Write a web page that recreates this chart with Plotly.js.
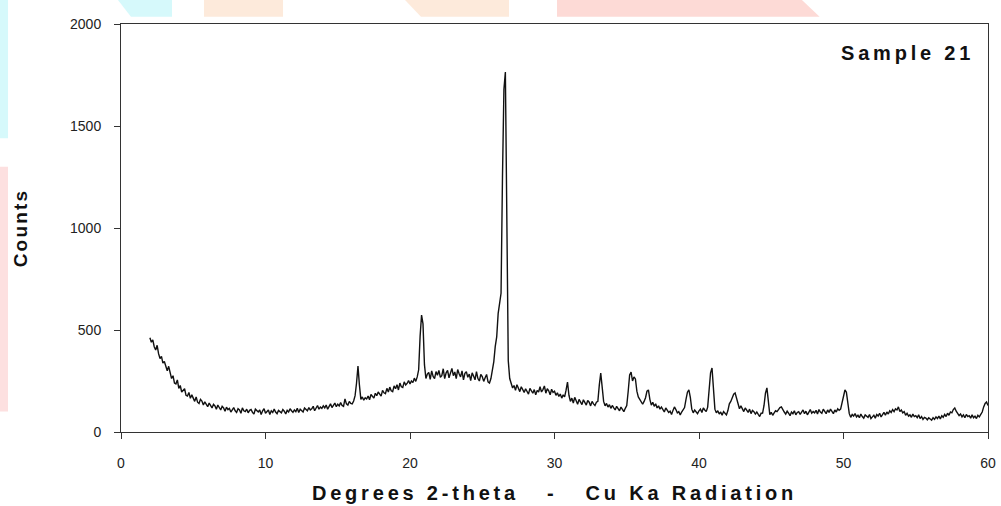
<!DOCTYPE html>
<html>
<head>
<meta charset="utf-8">
<script src="https://cdn.plot.ly/plotly-3.0.1.min.js"></script>
<style>
  html, body { margin: 0; padding: 0; background: #fff; }
  #chart { width: 1001px; height: 506px; }
  .xtitle { letter-spacing: 3.8px; }
  .ytitle { letter-spacing: 2.2px; }
  .annotation-text { letter-spacing: 3.8px; }
</style>
</head>
<body>
<div id="chart"></div>
<script>
// Scan parameters (instrument step)
const twoThetaStart = 2.0;
const twoThetaStep = 0.1;

// Counts, one row per degree (2.0 ... 59.9), then 60.0
const counts = [
  462, 440, 452, 418, 402, 425, 384, 360, 371, 338,   // 2
  346, 318, 300, 322, 282, 262, 276, 240, 236, 255,   // 3
  214, 228, 196, 204, 212, 180, 176, 194, 165, 182,   // 4
  168, 150, 172, 146, 140, 160, 152, 132, 148, 138,   // 5
  124, 142, 130, 118, 136, 128, 112, 132, 120, 108,   // 6
  126, 118, 102, 122, 110, 116, 98, 112, 120, 104,    // 7
  96, 114, 108, 92, 118, 104, 100, 112, 94, 106,      // 8
  110, 96, 88, 112, 102, 98, 108, 86, 104, 114,       // 9
  92, 100, 108, 86, 104, 96, 112, 98, 90, 106,        // 10
  100, 94, 110, 102, 88, 106, 98, 114, 104, 96,       // 11
  108, 100, 116, 96, 112, 106, 98, 118, 110, 104,     // 12
  120, 108, 114, 126, 104, 118, 130, 112, 122, 116,   // 13
  128, 118, 132, 112, 126, 138, 120, 130, 142, 124,   // 14
  136, 128, 144, 130, 126, 162, 138, 132, 150, 140,   // 15
  138, 152, 178, 240, 323, 230, 160, 172, 156, 168,   // 16
  162, 176, 158, 184, 172, 166, 190, 178, 196, 182,   // 17
  176, 204, 192, 188, 214, 196, 220, 202, 198, 226,   // 18
  212, 232, 206, 240, 222, 218, 246, 230, 238, 252,   // 19
  236, 250, 242, 264, 248, 270, 305, 470, 573, 530,   // 20
  330, 262, 284, 292, 258, 300, 272, 262, 296, 278,   // 21
  302, 268, 276, 310, 262, 290, 302, 266, 284, 312,   // 22
  276, 294, 262, 306, 286, 270, 300, 256, 288, 296,   // 23
  268, 284, 252, 290, 274, 256, 296, 262, 250, 282,   // 24
  272, 248, 266, 282, 246, 240, 262, 305, 345, 420,   // 25
  466, 580, 632, 680, 1250, 1680, 1765, 900, 350, 262,// 26
  238, 216, 228, 204, 232, 210, 198, 222, 206, 194,   // 27
  212, 198, 186, 214, 200, 190, 208, 182, 204, 196,   // 28
  222, 196, 208, 226, 190, 212, 202, 182, 210, 194,   // 29
  200, 180, 192, 174, 186, 166, 182, 172, 205, 245,   // 30
  180, 150, 166, 142, 170, 152, 136, 160, 144, 134,   // 31
  158, 140, 132, 154, 146, 128, 150, 138, 130, 146,   // 32
  150, 230, 289, 220, 150, 128, 140, 122, 134, 116,   // 33
  130, 118, 108, 126, 112, 104, 122, 110, 100, 116,   // 34
  130, 200, 280, 294, 250, 270, 260, 200, 172, 160,   // 35
  148, 136, 150, 168, 200, 206, 160, 132, 146, 126,   // 36
  138, 118, 128, 112, 122, 108, 98, 118, 104, 96,     // 37
  102, 86, 106, 123, 110, 94, 100, 84, 98, 108,       // 38
  120, 160, 195, 206, 170, 112, 94, 108, 100, 90,     // 39
  104, 112, 96, 118, 108, 100, 122, 190, 290, 314,    // 40
  200, 112, 94, 104, 88, 98, 82, 100, 92, 84,         // 41
  105, 138, 150, 165, 185, 191, 160, 130, 114, 128,   // 42
  110, 100, 118, 104, 96, 112, 90, 106, 100, 88,      // 43
  98, 86, 76, 92, 93, 130, 190, 216, 140, 85,         // 44
  96, 82, 94, 104, 100, 112, 120, 123, 106, 98,       // 45
  88, 102, 92, 80, 98, 90, 104, 84, 96, 100,          // 46
  86, 98, 108, 90, 102, 84, 96, 110, 92, 100,         // 47
  94, 106, 88, 110, 98, 92, 112, 100, 90, 108,        // 48
  96, 112, 102, 90, 108, 98, 114, 106, 112, 150,      // 49
  185, 206, 195, 130, 90, 72, 86, 78, 90, 74,         // 50
  82, 70, 88, 76, 68, 84, 78, 72, 86, 66,             // 51
  74, 82, 68, 86, 78, 92, 74, 88, 96, 82,             // 52
  98, 88, 104, 96, 110, 100, 114, 108, 123, 100,      // 53
  108, 94, 100, 82, 92, 78, 84, 72, 88, 76,           // 54
  80, 70, 84, 66, 76, 62, 72, 68, 60, 70,             // 55
  64, 58, 70, 62, 74, 66, 78, 64, 80, 72,             // 56
  86, 76, 92, 82, 98, 94, 110, 118, 102, 90,          // 57
  80, 88, 74, 84, 70, 86, 76, 80, 68, 84,             // 58
  70, 78, 66, 82, 74, 86, 98, 123, 140, 147,          // 59
  130                                                  // 60
];

const xTickVals = [0, 10, 20, 30, 40, 50, 60];
const yTickVals = [0, 500, 1000, 1500, 2000];
const xTitle = "Degrees 2-theta   -   Cu Ka Radiation";
const yTitle = "Counts";
const sampleLabel = "Sample 21";

const twoTheta = counts.map((_, i) => +(twoThetaStart + i * twoThetaStep).toFixed(2));

const trace = {
  x: twoTheta,
  y: counts,
  type: 'scatter',
  mode: 'lines',
  line: { color: '#111', width: 1.4 },
  hoverinfo: 'x+y'
};

const FONT = 'Liberation Sans, Arial, sans-serif';

const layout = {
  width: 1001,
  height: 506,
  margin: { l: 121, r: 13, t: 24, b: 74 },
  paper_bgcolor: '#ffffff',
  plot_bgcolor: '#ffffff',
  showlegend: false,
  font: { family: FONT, color: '#222', size: 13 },
  xaxis: {
    range: [0, 60],
    tickvals: xTickVals,
    ticks: 'outside',
    ticklen: 6,
    tickwidth: 1,
    tickcolor: '#333',
    showline: true,
    linecolor: '#333',
    linewidth: 1,
    mirror: true,
    showgrid: false,
    zeroline: false,
    ticklabelstandoff: 12,
    tickfont: { size: 14, color: '#222', family: FONT },
    title: { text: xTitle, font: { size: 20, color: '#111', family: FONT, weight: 'bold' }, standoff: 16 }
  },
  yaxis: {
    range: [0, 2000],
    tickvals: yTickVals,
    ticks: 'outside',
    ticklen: 6,
    tickwidth: 1,
    tickcolor: '#333',
    showline: true,
    linecolor: '#333',
    linewidth: 1,
    mirror: true,
    showgrid: false,
    zeroline: false,
    ticklabelstandoff: 10,
    tickfont: { size: 14, color: '#222', family: FONT },
    title: { text: yTitle, font: { size: 19, color: '#111', family: FONT, weight: 'bold' }, standoff: 37 }
  },
  annotations: [{
    text: sampleLabel,
    xref: 'paper', yref: 'paper',
    x: 0.986, y: 0.928,
    xanchor: 'right', yanchor: 'middle',
    showarrow: false,
    font: { size: 20, color: '#111', family: FONT, weight: 'bold' }
  }],
  shapes: [
    // faint watermark fragments along the top and left edges
    { type: 'path', xref: 'paper', yref: 'paper', layer: 'below', line: { width: 0 }, fillcolor: '#d6f9fb',
      path: 'M -0.0035 1.0588 L 0.0588 1.0588 L 0.0588 1.0175 L 0.0115 1.0175 Z' },
    { type: 'rect', xref: 'paper', yref: 'paper', layer: 'below', line: { width: 0 }, fillcolor: '#fdeadb',
      x0: 0.0957, x1: 0.1869, y0: 1.0175, y1: 1.0588 },
    { type: 'path', xref: 'paper', yref: 'paper', layer: 'below', line: { width: 0 }, fillcolor: '#fdeadb',
      path: 'M 0.3276 1.0588 L 0.4475 1.0588 L 0.4475 1.0175 L 0.3460 1.0175 Z' },
    { type: 'path', xref: 'paper', yref: 'paper', layer: 'below', line: { width: 0 }, fillcolor: '#fddad6',
      path: 'M 0.5029 1.0588 L 0.7854 1.0588 L 0.8058 1.0175 L 0.5029 1.0175 Z' },
    { type: 'rect', xref: 'paper', yref: 'paper', layer: 'below', line: { width: 0 }, fillcolor: '#d6f9fb',
      x0: -0.1396, x1: -0.1303, y0: 0.72, y1: 1.0588 },
    { type: 'rect', xref: 'paper', yref: 'paper', layer: 'below', line: { width: 0 }, fillcolor: '#fde0e0',
      x0: -0.1396, x1: -0.1303, y0: 0.05, y1: 0.65 }
  ]
};

Plotly.newPlot('chart', [trace], layout, { displayModeBar: false, staticPlot: true });
</script>
</body>
</html>
